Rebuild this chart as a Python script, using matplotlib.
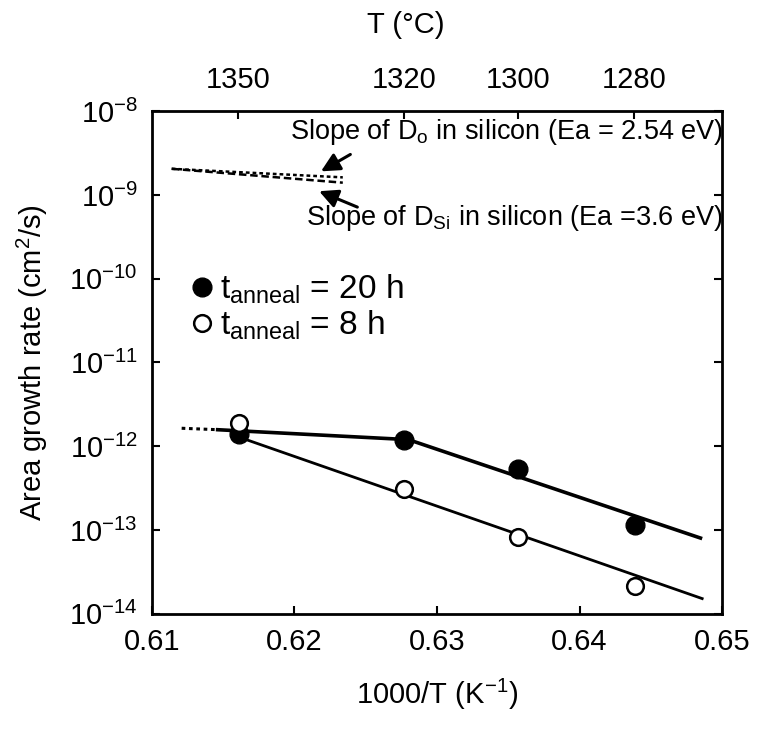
import numpy as np
import matplotlib
matplotlib.use("Agg")
import matplotlib.pyplot as plt

plt.rcParams['font.family'] = ['Liberation Sans', 'DejaVu Sans']
plt.rcParams['mathtext.fontset'] = 'custom'
plt.rcParams['mathtext.rm'] = 'Liberation Sans'
plt.rcParams['mathtext.it'] = 'Liberation Sans:italic'
plt.rcParams['mathtext.bf'] = 'Liberation Sans:bold'

# measured points, x = 1000/T (1/K)
inv_T = [0.6161, 0.6277, 0.6357, 0.6439]
rate_20h = [1.4e-12, 1.2e-12, 5.3e-13, 1.16e-13]
rate_8h = [1.9e-12, 3.1e-13, 8.3e-14, 2.15e-14]

# fitted lines
fit20_x = [0.6145, 0.6280, 0.6486]
fit20_y = [1.58e-12, 1.2e-12, 7.9e-14]
extrap_x = [0.6121, 0.6145]
extrap_y = [1.64e-12, 1.58e-12]
fit8_x = [0.6161, 0.6486]
fit8_y = [1.29e-12, 1.52e-14]

# reference slopes (oxygen / silicon diffusion)
slope_x = [0.6114, 0.6234]
slope_do_y = [2.05e-9, 1.62e-9]
slope_dsi_y = [2.05e-9, 1.40e-9]

top_ticks_C = [1350, 1320, 1300, 1280]

fig = plt.figure(figsize=(7.74, 7.36), dpi=100)
ax = fig.add_axes([0.196, 0.166, 0.737, 0.683])
ax.set_yscale('log')
ax.set_xlim(0.61, 0.65)
ax.set_ylim(1e-14, 1e-8)

# fits
ax.plot(fit20_x, fit20_y, color='black', lw=2.6, solid_capstyle='butt')
ax.plot(extrap_x, extrap_y, color='black', lw=2.2, ls=(0, (1.2, 1.2)))
ax.plot(fit8_x, fit8_y, color='black', lw=2.0)

# slope lines
ax.plot(slope_x, slope_do_y, color='black', lw=1.8, ls=(0, (1.5, 1.2)))
ax.plot(slope_x, slope_dsi_y, color='black', lw=1.8, ls=(0, (3.0, 1.5)))

# data
h20, = ax.plot(inv_T, rate_20h, 'o', color='black', ms=13.5, mec='black')
h8, = ax.plot(inv_T, rate_8h, 'o', mfc='white', mec='black', ms=12, mew=1.8)

ax.legend([h20, h8], [r'$\mathregular{t_{anneal}}$ = 20 h', r'$\mathregular{t_{anneal}}$ = 8 h'],
          loc='upper left', bbox_to_anchor=(0.035, 0.705), frameon=False,
          fontsize=24, handletextpad=0.05, labelspacing=0.08, handlelength=1.0,
          borderaxespad=0)

# annotations
ax.annotate('', xy=(0.6217, 1.84e-9), xytext=(0.6241, 3.16e-9),
            arrowprops=dict(arrowstyle='-|>', color='black', lw=2.2, mutation_scale=28))
ax.annotate('', xy=(0.62156, 1.14e-9), xytext=(0.6246, 6.95e-10),
            arrowprops=dict(arrowstyle='-|>', color='black', lw=2.2, mutation_scale=28))
ax.text(0.6197, 5.66e-9, r'Slope of D$_\mathregular{o}$ in silicon (Ea = 2.54 eV)',
        fontsize=19.5, ha='left', va='center')
ax.text(0.6208, 5.3e-10, r'Slope of D$_\mathregular{Si}$ in silicon (Ea =3.6 eV)',
        fontsize=19.5, ha='left', va='center')

ax.set_xticks([0.61, 0.62, 0.63, 0.64, 0.65])
ax.set_xticklabels(['0.61', '0.62', '0.63', '0.64', '0.65'])
ax.tick_params(axis='both', which='major', direction='in', length=6, width=1.5,
               labelsize=21, top=False, right=True, pad=10)
ax.tick_params(axis='y', which='minor', direction='in', length=0)
for s in ax.spines.values():
    s.set_linewidth(2.0)

ax.set_xlabel('1000/T (K$^{\\mathregular{-1}}$)', fontsize=21, labelpad=15)
ax.set_ylabel('Area growth rate (cm$^\\mathregular{2}$/s)', fontsize=21, labelpad=14)

# top axis in Celsius
def inv_to_C(x):
    return 1000.0 / np.asarray(x) - 273.15

def C_to_inv(t):
    return 1000.0 / (np.asarray(t) + 273.15)

top = ax.secondary_xaxis('top', functions=(inv_to_C, C_to_inv))
top.set_xticks(top_ticks_C)
top.set_xticklabels([str(t) for t in top_ticks_C])
top.tick_params(direction='in', length=6, width=1.5, labelsize=21, pad=12)
fig.text(406 / 774, 1 - 25 / 736, 'T (°C)', fontsize=21, ha='center', va='center')

fig.savefig('out.png', dpi=100)
